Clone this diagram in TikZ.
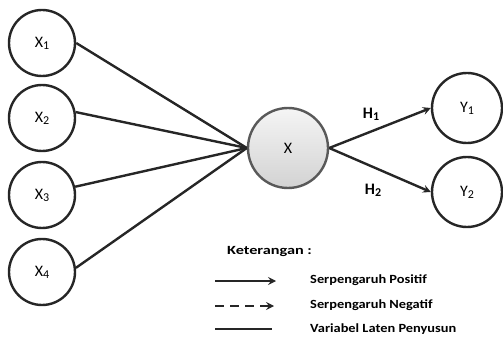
\documentclass[tikz,border=0pt]{standalone}
\usepackage{fontspec}
\setmainfont{Carlito}
\usetikzlibrary{arrows.meta}
\newcommand{\lowsub}[1]{\raisebox{-0.12em}{\fontsize{12}{12}\selectfont #1}}
\newcommand{\lowsubb}[1]{\raisebox{-0.12em}{\fontsize{12}{12}\selectfont #1}}
\begin{document}
\begin{tikzpicture}[x=1pt,y=-1pt,
  lat/.style={circle,draw=black!85,line width=2.4pt,minimum size=66pt,inner sep=0pt,font=\fontsize{16}{16}\selectfont},
  conn/.style={line width=2.4pt,draw=black!85},
  arr/.style={line width=2.4pt,draw=black!85,-{Stealth[length=8pt,width=8pt,inset=3pt]}},
  lbl/.style={font=\bfseries\fontsize{16}{16}\selectfont},
  leg/.style={font=\bfseries\fontsize{12.5}{12.5}\selectfont,anchor=west,inner sep=0pt}]
\useasboundingbox (0,0) rectangle (503,339);
\node[lat] (X1) at (42,43) {X\lowsub{1}};
\node[lat] (X2) at (42,118) {X\lowsub{2}};
\node[lat] (X3) at (42,195) {X\lowsub{3}};
\node[lat] (X4) at (42,272) {X\lowsub{4}};
\node[lat,minimum size=80pt,top color=gray!8,bottom color=gray!35,draw=gray!70!black] (X) at (288,148) {X};
\node[lat,minimum size=70pt] (Y1) at (467,108) {Y\lowsub{1}};
\node[lat,minimum size=70pt] (Y2) at (467,192) {Y\lowsub{2}};
\draw[conn] (X1.east) -- (X.west);
\draw[conn] (X2.10) -- (X.west);
\draw[conn] (X3.14) -- (X.west);
\draw[conn] (X4.7) -- (X.west);
\draw[arr] (X.east) -- (Y1.west);
\draw[arr] (X.east) -- (Y2.west);
\node[lbl] (H1) at (371,114) {H\lowsubb{1}};
\node[lbl] (H2) at (373,190) {H\lowsubb{2}};
\node[leg] (ket) at (227,252) {\scalebox{1.3}[1]{Keterangan :}};
\coordinate (a1) at (215,281); \coordinate (b1) at (276,281);
\coordinate (a2) at (215,306); \coordinate (b2) at (274,306);
\coordinate (a3) at (215,329); \coordinate (b3) at (272,329);
\draw[arr] (a1) -- (b1);
\draw[arr,dash pattern=on 9pt off 6pt] (a2) -- (b2);
\draw[conn] (a3) -- (b3);
\node[leg] (t1) at (310,280) {\scalebox{1.15}[1]{Serpengaruh Positif}};
\node[leg] (t2) at (310,305) {\scalebox{1.15}[1]{Serpengaruh Negatif}};
\node[leg] (t3) at (310,329) {\scalebox{1.15}[1]{Variabel Laten Penyusun}};
\end{tikzpicture}
\end{document}
